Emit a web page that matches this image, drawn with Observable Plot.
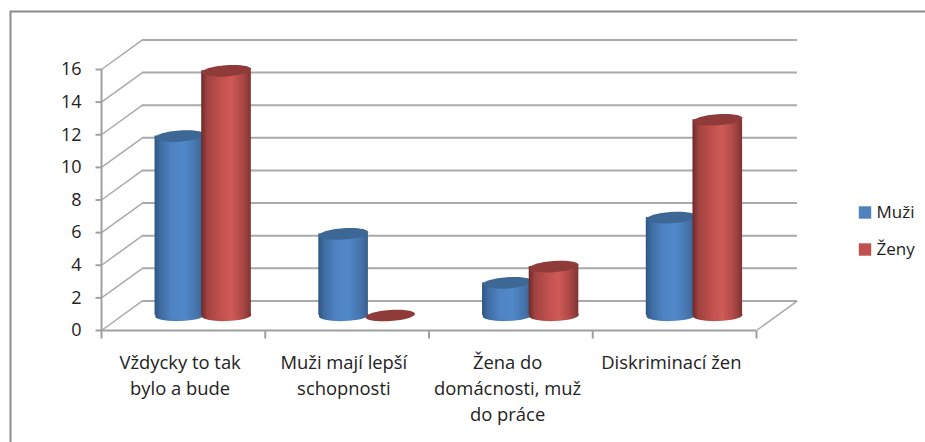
<!DOCTYPE html>
<html>
<head>
<meta charset="utf-8">
<script src="https://cdn.jsdelivr.net/npm/d3@7"></script>
<script src="https://cdn.jsdelivr.net/npm/@observablehq/plot@0.6"></script>
<style>
html,body{margin:0;padding:0;background:#fff;overflow:hidden;}
svg{display:block;}
</style>
</head>
<body>
<div id="chart"></div>
<script>
const categories = ["Vždycky to tak|bylo a bude", "Muži mají lepší|schopnosti", "Žena do|domácnosti, muž|do práce", "Diskriminací žen"];
const seriesNames = ["Muži", "Ženy"];
const muzi = [11, 5, 2, 6];
const zeny = [15, 0, 3, 12];
const yTicks = [0, 2, 4, 6, 8, 10, 12, 14, 16];
const xTicks = [0, 1, 2, 3, 4];

const depthX = 0.25, depthY = 1.81;      // wall offset in scale units
const barSlots = {Muži: [0.327, 0.63], Ženy: [0.612, 0.915]};
const colors = {Muži: {top: "#3d6795", legend: "#4f81bd", grad: "gradM"}, Ženy: {top: "#8f3b39", legend: "#c0504d", grad: "gradZ"}};

const bars = [
  ...muzi.map((v, i) => ({s: "Muži", i, v})),
  ...zeny.map((v, i) => ({s: "Ženy", i, v}))
].map(d => ({...d, x1: d.i + barSlots[d.s][0], x2: d.i + barSlots[d.s][1], xm: d.i + (barSlots[d.s][0] + barSlots[d.s][1]) / 2}));
const muziBars = bars.filter(d => d.s === "Muži");
const zenyBars = bars.filter(d => d.s === "Ženy");

function tiltedEllipse(rx, ry, tilt) {
  const c = Math.cos(tilt), s = Math.sin(tilt), k = 0.5523;
  const p = (x, y) => [x * c - y * s, x * s + y * c];
  return {
    draw(ctx) {
      ctx.moveTo(...p(rx, 0));
      ctx.bezierCurveTo(...p(rx, k * ry), ...p(k * rx, ry), ...p(0, ry));
      ctx.bezierCurveTo(...p(-k * rx, ry), ...p(-rx, k * ry), ...p(-rx, 0));
      ctx.bezierCurveTo(...p(-rx, -k * ry), ...p(-k * rx, -ry), ...p(0, -ry));
      ctx.bezierCurveTo(...p(k * rx, -ry), ...p(rx, -k * ry), ...p(rx, 0));
      ctx.closePath();
    }
  };
}
const capSymbol = tiltedEllipse(24.8, 5.6, -0.07);
const baseSymbol = tiltedEllipse(24.8, 5.6, -0.03);
const hTick = {draw(c) { c.moveTo(-3, 0); c.lineTo(3, 0); }};
const vTick = {draw(c) { c.moveTo(0, -4); c.lineTo(0, 4); }};

function gradientDefs() {
  const svgNS = "http://www.w3.org/2000/svg";
  const defs = document.createElementNS(svgNS, "defs");
  const make = (id, stops) => {
    const g = document.createElementNS(svgNS, "linearGradient");
    g.setAttribute("id", id);
    stops.forEach(([o, col]) => {
      const st = document.createElementNS(svgNS, "stop");
      st.setAttribute("offset", o);
      st.setAttribute("stop-color", col);
      g.appendChild(st);
    });
    defs.appendChild(g);
  };
  make("gradM", [[0, "#2f5583"], [0.12, "#3f6da3"], [0.35, "#4f83c3"], [0.6, "#5088ca"], [0.85, "#4674ab"], [1, "#38608f"]]);
  make("gradZ", [[0, "#6b2a29"], [0.12, "#a04341"], [0.4, "#c2514e"], [0.6, "#cf5a57"], [0.85, "#a84644"], [1, "#7d3432"]]);
  return defs;
}

const gridColor = "#aaaaaa", axisColor = "#a0a0a0", frameColor = "#8a8a8a";
const barDy = -15;

const cylinders = (rows, name) => [
  Plot.dot(rows.filter(d => d.v > 0), {x: "xm", y: () => 0, dy: barDy, r: 1, symbol: baseSymbol, fill: `url(#${colors[name].grad})`, stroke: "none"}),
  Plot.rect(rows.filter(d => d.v > 0), {x1: "x1", x2: "x2", y1: () => 0, y2: "v", dy: barDy, fill: `url(#${colors[name].grad})`}),
  Plot.dot(rows, {x: "xm", y: "v", dy: barDy, r: 1, symbol: capSymbol, fill: colors[name].top, stroke: "none"})
];

const plot = Plot.plot({
  width: 925,
  height: 442,
  marginLeft: 101,
  marginRight: 169,
  marginTop: 69,
  marginBottom: 112,
  style: {background: "#fff"},
  x: {type: "linear", domain: [0, 4], axis: null},
  y: {type: "linear", domain: [0, 16], axis: null},
  marks: [
    gradientDefs,
    Plot.frame({stroke: frameColor, strokeWidth: 2, insetLeft: -91, insetTop: -58, insetRight: -190, insetBottom: -150}),
    // back wall gridlines
    Plot.ruleY(yTicks, {x1: () => depthX, x2: () => 4 + depthX, y: d => d + depthY, stroke: gridColor, strokeWidth: 2}),
    // side-wall diagonals
    Plot.link(yTicks, {x1: () => 0, y1: d => d, x2: () => depthX, y2: d => d + depthY, stroke: gridColor, strokeWidth: 1.5}),
    // floor right edge
    Plot.link([0], {x1: () => 4, y1: () => 0, x2: () => 4 + depthX, y2: () => depthY, stroke: gridColor, strokeWidth: 1.5}),
    // axes
    Plot.ruleX([0], {x: d => d, y1: () => 0, y2: () => 16, stroke: axisColor, strokeWidth: 2}),
    Plot.ruleY([0], {y: d => d, x1: () => 0, x2: () => 4, stroke: axisColor, strokeWidth: 2}),
    Plot.dot(yTicks, {x: () => 0, y: d => d, dx: -3, symbol: hTick, stroke: axisColor, strokeWidth: 2, r: 1}),
    Plot.dot(xTicks, {x: d => d, y: () => 0, dy: 4, symbol: vTick, stroke: axisColor, strokeWidth: 2, r: 1}),
    // tick labels
    Plot.text(yTicks, {x: () => 0, y: d => d, text: d => String(d), dx: -20, textAnchor: "end", fontSize: 18, fontFamily: "Open Sans", fill: "#222"}),
    Plot.text(categories, {x: (d, i) => i + 0.48, y: () => 0, text: d => d.replace(/\|/g, "\n"), dy: 20, lineAnchor: "top", lineHeight: 1.41, fontSize: 18.4, fontFamily: "Open Sans", fill: "#222"}),
    // cylinders
    ...cylinders(muziBars, "Muži"),
    ...cylinders(zenyBars, "Ženy"),
    // legend
    Plot.dot([seriesNames[0]], {frameAnchor: "top-left", dx: 763.5, dy: 143, symbol: "square", r: 7, fill: d => colors[d].legend, stroke: "none"}),
    Plot.dot([seriesNames[1]], {frameAnchor: "top-left", dx: 763.5, dy: 180, symbol: "square", r: 7, fill: d => colors[d].legend, stroke: "none"}),
    Plot.text([seriesNames[0]], {frameAnchor: "top-left", dx: 775, dy: 143, text: d => d, textAnchor: "start", lineAnchor: "middle", fontSize: 17, fontFamily: "Open Sans", fill: "#222"}),
    Plot.text([seriesNames[1]], {frameAnchor: "top-left", dx: 775, dy: 180, text: d => d, textAnchor: "start", lineAnchor: "middle", fontSize: 17, fontFamily: "Open Sans", fill: "#222"})
  ]
});
document.getElementById("chart").appendChild(plot);
</script>
</body>
</html>
